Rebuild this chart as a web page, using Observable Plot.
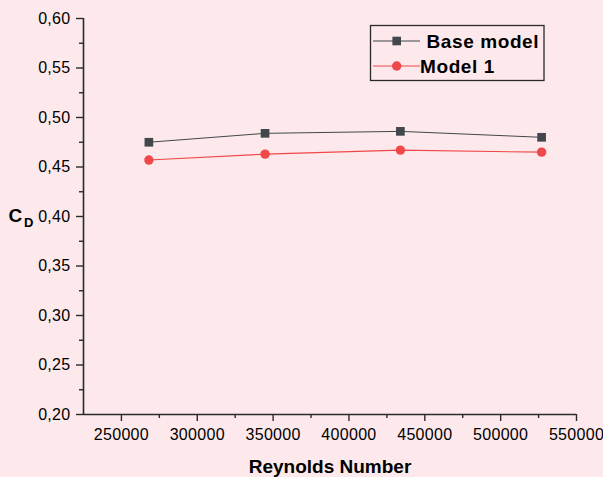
<!DOCTYPE html>
<html>
<head>
<meta charset="utf-8">
<script src="https://cdn.jsdelivr.net/npm/d3@7"></script>
<script src="https://cdn.jsdelivr.net/npm/@observablehq/plot@0.6"></script>
<style>
  html, body { margin: 0; padding: 0; background: #fde9eb; }
  #wrap { position: relative; width: 603px; height: 477px; overflow: hidden; }
  #legend { position: absolute; left: 0; top: 0; }
  .lt { font-family: "Liberation Sans", Arial, sans-serif; font-weight: bold; font-size: 19px; letter-spacing: 0.6px; fill: #000; }
  #wrap svg g[aria-label="y-axis tick label"] text, #wrap svg g[aria-label="x-axis tick label"] text { letter-spacing: 0.3px; }
</style>
</head>
<body>
<div id="wrap"></div>
<script>
const reynolds = [268100, 344700, 433900, 527000];
const baseModel = [0.475, 0.484, 0.486, 0.480];
const model1 = [0.457, 0.463, 0.467, 0.465];
const seriesNames = ["Base model", "Model 1"];
const xTicks = [250000, 300000, 350000, 400000, 450000, 500000, 550000];
const xMinor = [275000, 325000, 375000, 425000, 475000, 525000];
const yTicks = [0.20, 0.25, 0.30, 0.35, 0.40, 0.45, 0.50, 0.55, 0.60];
const yMinor = [0.225, 0.275, 0.325, 0.375, 0.425, 0.475, 0.525, 0.575];
const xDomain = [225000, 550000];
const yDomain = [0.20, 0.60];

const baseRows = reynolds.map((x, i) => ({x, y: baseModel[i]}));
const m1Rows = reynolds.map((x, i) => ({x, y: model1[i]}));

const GRAY = "#41474b", RED = "#f04848", AX = "#2a2a2a";
const fmtY = d => d.toFixed(2).replace(".", ",");

const chart = Plot.plot({
  width: 603,
  height: 477,
  marginLeft: 83,
  marginRight: 27,
  marginTop: 18,
  marginBottom: 63,
  style: {background: "transparent", fontFamily: "'Liberation Sans', Arial, sans-serif", fontSize: "16px", color: "#000"},
  x: {domain: xDomain},
  y: {domain: yDomain},
  marks: [
    Plot.axisY(yTicks, {tickSize: 7, tickPadding: 6, tickFormat: fmtY, label: null, stroke: AX, strokeWidth: 1.4, fill: "#000", fontSize: 16}),
    Plot.axisY(yMinor, {tickSize: 4, tickFormat: () => "", label: null, stroke: AX, strokeWidth: 1.4}),
    Plot.axisX(xTicks, {tickSize: 7, tickPadding: 7, tickFormat: d => String(d), label: null, stroke: AX, strokeWidth: 1.4, fill: "#000", fontSize: 16}),
    Plot.axisX(xMinor, {tickSize: 4, tickFormat: () => "", label: null, stroke: AX, strokeWidth: 1.4}),
    Plot.ruleX([xDomain[0]], {stroke: AX, strokeWidth: 1.6}),
    Plot.ruleY([yDomain[0]], {stroke: AX, strokeWidth: 1.6}),
    Plot.line(baseRows, {x: "x", y: "y", stroke: GRAY, strokeWidth: 1}),
    Plot.line(m1Rows, {x: "x", y: "y", stroke: RED, strokeWidth: 1.1}),
    Plot.dot(baseRows, {x: "x", y: "y", symbol: "square", r: 4.9, fill: GRAY, stroke: "none"}),
    Plot.dot(m1Rows, {x: "x", y: "y", symbol: "circle", r: 4.7, fill: RED, stroke: "none"}),
    Plot.text(["Reynolds Number"], {frameAnchor: "bottom", dy: 52, lineAnchor: "middle", fontSize: 19, fontWeight: "bold", fill: "#000", text: d => d}),
    Plot.text(["C"], {frameAnchor: "left", dx: -75, dy: -1, textAnchor: "start", lineAnchor: "middle", fontSize: 19, fontWeight: "bold", fill: "#000", text: d => d}),
    Plot.text(["D"], {frameAnchor: "left", dx: -59.5, dy: 6, textAnchor: "start", lineAnchor: "middle", fontSize: 13, fontWeight: "bold", fill: "#000", text: d => d})
  ]
});
document.getElementById("wrap").appendChild(chart);

// legend overlay
const lg = d3.select("#wrap").append("svg").attr("id", "legend").attr("width", 603).attr("height", 477);
lg.append("rect").attr("x", 370.5).attr("y", 25.5).attr("width", 173.5).attr("height", 55).attr("fill", "none").attr("stroke", "#2a2a2a").attr("stroke-width", 1.3);
const rows = [
  {name: seriesNames[0], color: GRAY, sym: "square", y: 41, tx: 426.5},
  {name: seriesNames[1], color: RED, sym: "circle", y: 66, tx: 420}
];
rows.forEach(r => {
  lg.append("line").attr("x1", 373).attr("x2", 420).attr("y1", r.y).attr("y2", r.y).attr("stroke", r.color).attr("stroke-width", 1.1);
  if (r.sym === "square") lg.append("rect").attr("x", 396.7 - 4.3).attr("y", r.y - 4.3).attr("width", 8.6).attr("height", 8.6).attr("fill", r.color);
  else lg.append("circle").attr("cx", 396.7).attr("cy", r.y).attr("r", 4.7).attr("fill", r.color);
  lg.append("text").attr("class", "lt").attr("x", r.tx).attr("y", r.y + 6.8).text(r.name);
});
</script>
</body>
</html>
